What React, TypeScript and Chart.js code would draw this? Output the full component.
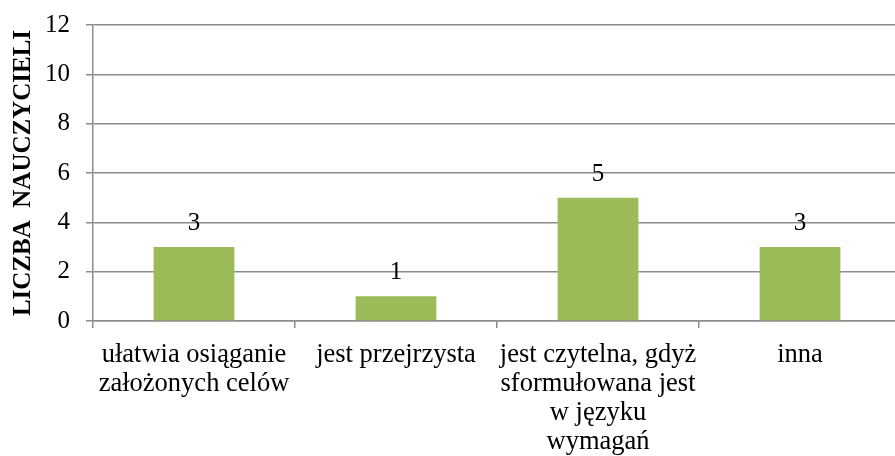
import React, { useEffect, useRef } from "react";
import { Chart, registerables } from "chart.js";

Chart.register(...registerables);

const categories: string[][] = [
  ["ułatwia osiąganie", "założonych celów"],
  ["jest przejrzysta"],
  ["jest czytelna, gdyż", "sformułowana jest", "w języku", "wymagań"],
  ["inna"],
];
const values: number[] = [3, 1, 5, 3];
const yTitle = "LICZBA  NAUCZYCIELI";
const yMin = 0;
const yMax = 12;
const yStep = 2;

const FONT = '"Liberation Serif", "Times New Roman", serif';

const dataLabelPlugin = {
  id: "dataLabels",
  afterDatasetsDraw(chart: any) {
    const ctx = chart.ctx;
    const meta = chart.getDatasetMeta(0);
    ctx.save();
    ctx.font = `25px ${FONT}`;
    ctx.fillStyle = "#000";
    ctx.textAlign = "center";
    ctx.textBaseline = "alphabetic";
    meta.data.forEach((bar: any, i: number) => {
      ctx.fillText(String(values[i]), bar.x, bar.y - 17);
    });
    ctx.restore();
  },
};

export default function App() {
  const ref = useRef<HTMLCanvasElement | null>(null);
  useEffect(() => {
    if (!ref.current) return;
    const chart = new Chart(ref.current, {
      type: "bar",
      data: {
        labels: categories,
        datasets: [
          {
            data: values,
            backgroundColor: "#9BBB59",
            borderWidth: 0,
            categoryPercentage: 1,
            barPercentage: 0.4,
          },
        ],
      },
      plugins: [dataLabelPlugin],
      options: {
        responsive: false,
        animation: false,
        devicePixelRatio: 1,
        layout: { padding: { top: 25, right: 9, left: 0, bottom: 0 } },
        plugins: {
          legend: { display: false },
          tooltip: { enabled: false },
        },
        scales: {
          x: {
            offset: true,
            grid: {
              offset: true,
              drawOnChartArea: false,
              drawTicks: true,
              tickLength: 7,
              color: "#8c8c8c",
              lineWidth: 1.5,
            },
            border: { display: true, color: "#8c8c8c", width: 1.5 },
            ticks: {
              color: "#000",
              font: { family: FONT, size: 26.5, lineHeight: 1.1 },
              padding: 12,
              maxRotation: 0,
              autoSkip: false,
            },
            afterFit(scale: any) {
              scale.height = 135;
            },
          },
          y: {
            min: yMin,
            max: yMax,
            grid: {
              color: "#8c8c8c",
              lineWidth: 1.5,
              drawTicks: true,
              tickLength: 7,
            },
            border: { display: true, color: "#8c8c8c", width: 1.5 },
            ticks: {
              stepSize: yStep,
              color: "#000",
              font: { family: FONT, size: 25, lineHeight: 0.6 },
              padding: 16,
            },
            title: {
              display: true,
              text: yTitle,
              color: "#000",
              font: { family: FONT, size: 25, weight: "bold" },
              padding: { top: 9, bottom: 0 },
            },
            afterFit(scale: any) {
              scale.width = 93;
            },
          },
        },
      },
    });
    return () => chart.destroy();
  }, []);
  return (
    <div
      style={{
        position: "fixed",
        left: 0,
        top: 0,
        width: 895,
        height: 456,
        overflow: "hidden",
        background: "#fff",
      }}
    >
      <canvas ref={ref} width={910} height={456} style={{ display: "block" }} />
    </div>
  );
}
